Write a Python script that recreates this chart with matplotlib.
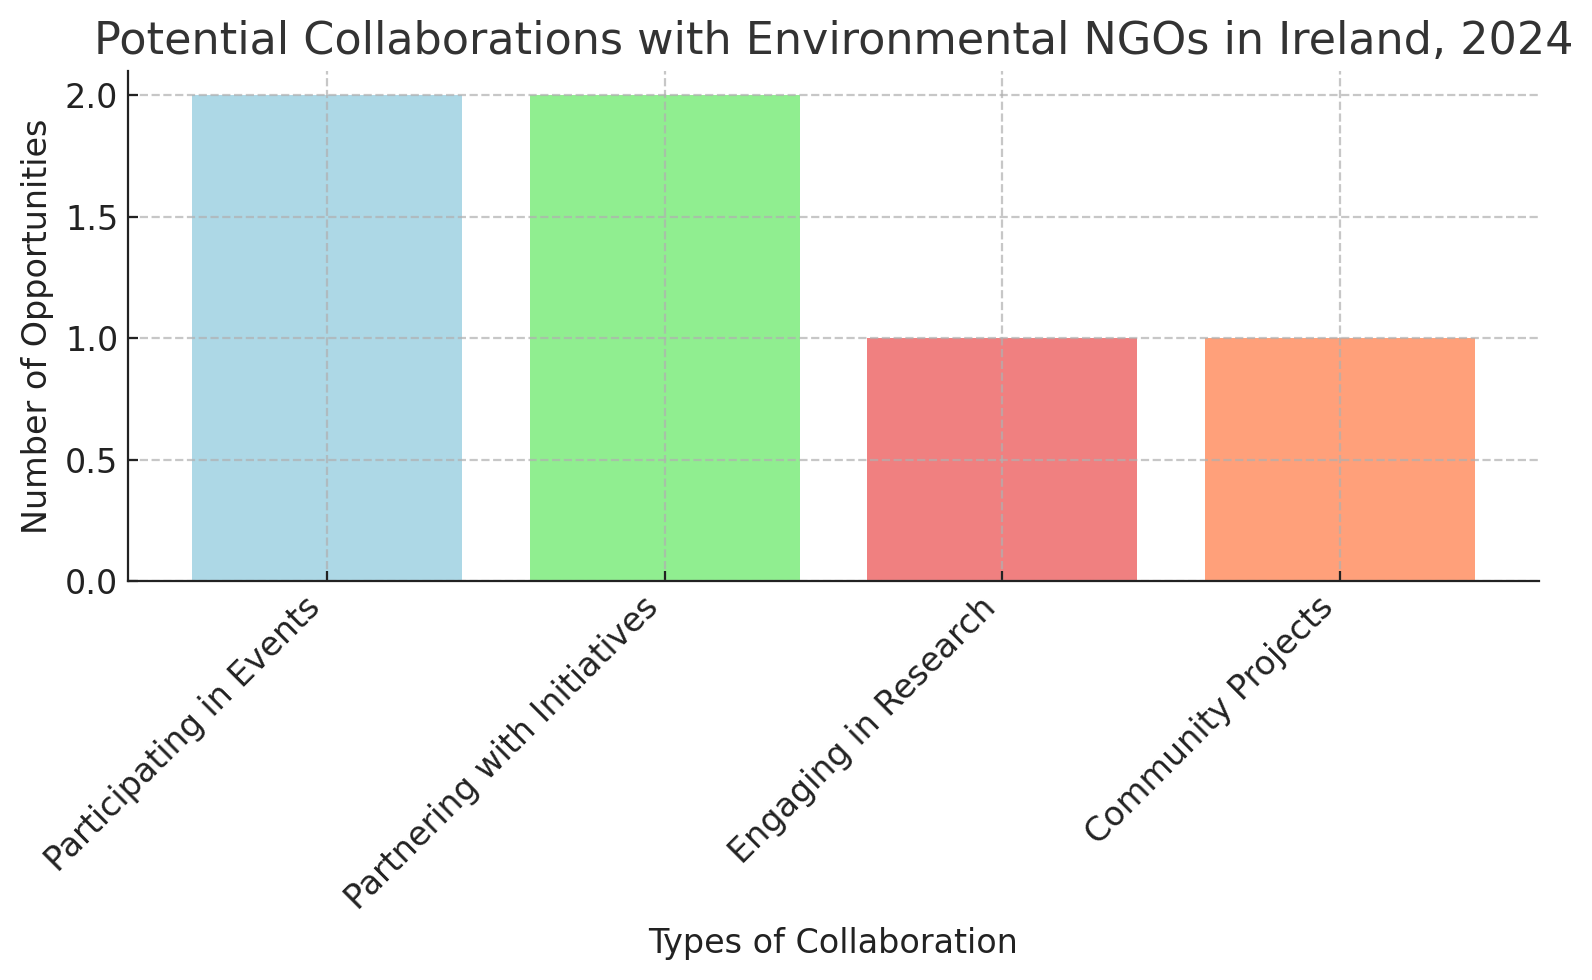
import matplotlib.pyplot as plt

categories = ["Participating in Events", "Partnering with Initiatives",
              "Engaging in Research", "Community Projects"]
opportunities = [2, 2, 1, 1]
bar_colors = ["lightblue", "lightgreen", "lightcoral", "lightsalmon"]

fig = plt.figure(figsize=(7.96, 4.9), dpi=200)
ax = fig.add_axes([0.0804, 0.407, 0.8863, 0.5206])
ax.bar(categories, opportunities, color=bar_colors)
ax.set_title("Potential Collaborations with Environmental NGOs in Ireland, 2024",
             fontsize=16, color="#333333")
ax.set_xlabel("Types of Collaboration", fontsize=12, color="#222222")
ax.set_ylabel("Number of Opportunities", fontsize=12, color="#222222")
ax.tick_params(labelsize=12, direction="in", colors="#222222")
plt.xticks(rotation=45, ha="right")
ax.grid(True, linestyle="--", alpha=0.7)
ax.spines["top"].set_visible(False)
ax.spines["right"].set_visible(False)
ax.spines["left"].set_color("#222222")
ax.spines["bottom"].set_color("#222222")
fig.savefig("out.png")
